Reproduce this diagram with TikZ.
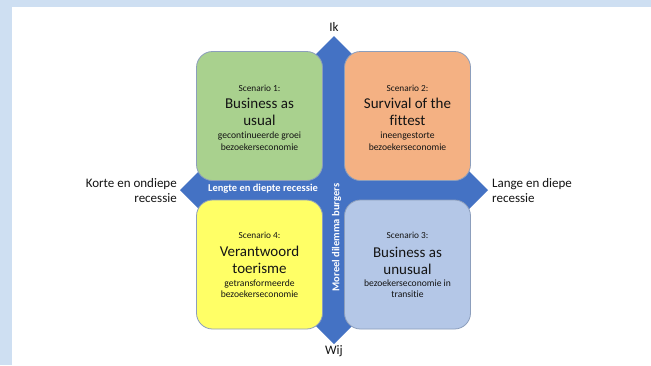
\documentclass[tikz,border=0pt]{standalone}
\usepackage{fontspec}
\setmainfont[Ligatures=NoCommon]{Carlito}
\definecolor{bgblue}{RGB}{206,223,242}
\definecolor{arrowblue}{RGB}{68,114,196}
\definecolor{boxgreen}{RGB}{169,209,142}
\definecolor{boxorange}{RGB}{244,177,131}
\definecolor{boxyellow}{RGB}{255,255,102}
\definecolor{boxlblue}{RGB}{180,199,231}
\definecolor{boxline}{RGB}{140,158,188}
\definecolor{txt}{RGB}{20,20,20}
\begin{document}
\begin{tikzpicture}[x=1pt,y=-1pt,
  scenbox/.style={draw=boxline,line width=0.8pt,rounded corners=16pt,
    minimum width=126pt,minimum height=129pt,inner sep=0pt},
  scen/.style={font=\fontsize{9.3}{11}\selectfont,text=txt,inner sep=0pt},
  ttl/.style={font=\fontsize{15}{17}\selectfont,text=txt,align=center,inner sep=0pt},
  sub/.style={font=\fontsize{9.6}{11.5}\selectfont,text=txt,align=center,inner sep=0pt},
  lbl/.style={font=\fontsize{13}{15}\selectfont,text=txt,inner sep=0pt},
  axis/.style={font=\bfseries\fontsize{10.5}{12}\selectfont,text=white,inner sep=0pt}]
\useasboundingbox (0,0) rectangle (651,365);
\fill[bgblue] (0,0) rectangle (651,365);
\fill[white] (12,7) rectangle (651,365);
% diamond background
\fill[arrowblue] (334,36) -- (488,190) -- (334,344) -- (180,190) -- cycle;
% boxes
\node[scenbox,fill=boxgreen]  (b1) at (259.5,116) {};
\node[scenbox,fill=boxorange] (b2) at (407.5,116) {};
\node[scenbox,fill=boxyellow] (b4) at (259.5,264.5) {};
\node[scenbox,fill=boxlblue]  (b3) at (407.5,264.5) {};
% box 1
\node[scen] (s1) at ([yshift=28pt]b1.center) {Scenario 1:};
\node[ttl]  (t1) at ([yshift=4.5pt]b1.center) {Business as\\usual};
\node[sub]  (u1) at ([yshift=-25pt]b1.center) {gecontinueerde groei\\bezoekerseconomie};
% box 2
\node[scen] (s2) at ([yshift=28pt]b2.center) {Scenario 2:};
\node[ttl]  (t2) at ([yshift=4.5pt]b2.center) {Survival of the\\fittest};
\node[sub]  (u2) at ([yshift=-25pt]b2.center) {ineengestorte\\bezoekerseconomie};
% box 4
\node[scen] (s4) at ([yshift=29pt]b4.center) {Scenario 4:};
\node[ttl]  (t4) at ([yshift=4.5pt]b4.center) {Verantwoord\\toerisme};
\node[sub]  (u4) at ([yshift=-24pt]b4.center) {getransformeerde\\bezoekerseconomie};
% box 3
\node[scen] (s3) at ([yshift=29pt]b3.center) {Scenario 3:};
\node[ttl]  (t3) at ([yshift=4pt]b3.center) {Business as\\unusual};
\node[sub]  (u3) at ([yshift=-24pt]b3.center) {bezoekerseconomie in\\transitie};
% axis labels
\node[axis] (hx) at (263,189) {Lengte en diepte recessie};
\node[axis,rotate=90] (vx) at (336.5,237.5) {Moreel dilemma burgers};
% outer labels
\node[lbl,anchor=base] (ik) at (334,31) {Ik};
\node[lbl,anchor=base] (wij) at (334,354) {Wij};
\node[lbl,anchor=east,align=right] (kort) at (177,190.5) {Korte en ondiepe\\recessie};
\node[lbl,anchor=west,align=left] (lang) at (492,190.5) {Lange en diepe\\recessie};
\end{tikzpicture}
\end{document}
